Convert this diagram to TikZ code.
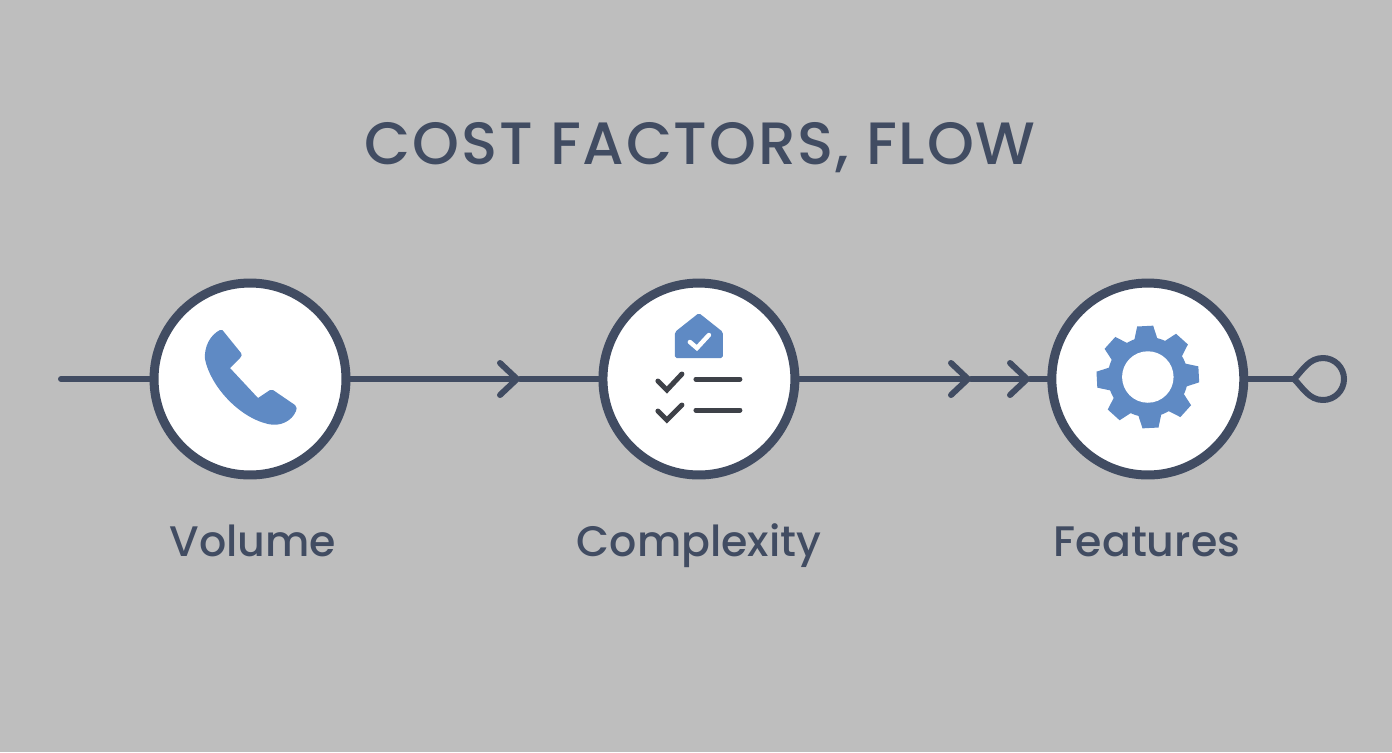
\documentclass[tikz,border=0pt]{standalone}
\usepackage{fontspec}
\setmainfont{Poppins Medium}
\newfontfamily\titlefont[LetterSpace=3]{Poppins Medium}
\usetikzlibrary{arrows.meta}
\definecolor{bggray}{HTML}{BEBEBE}
\definecolor{slateline}{HTML}{414C62}
\definecolor{iconblue}{HTML}{5F8AC4}
\definecolor{darkcheck}{HTML}{3E4148}
\tikzset{
  factor/.style={circle,draw=slateline,fill=white,line width=0.18cm,minimum size=3.84cm},
  flow/.style={draw=slateline,line width=0.12cm,line cap=round,line join=round},
  tick/.style={draw=darkcheck,line width=0.1cm,line cap=round,line join=miter},
  caption/.style={text=slateline,font=\fontsize{24.3}{29}\selectfont,text height=0.62cm,text depth=0.18cm},
}
\begin{document}
\begin{tikzpicture}[x=0.02cm,y=-0.02cm,>={Straight Barb[length=0.34cm,width=0.64cm,round]},node distance=8.98cm]
    \fill[bggray] (0,0) rectangle (1392,752);
    \useasboundingbox (0,0) rectangle (1392,752);

    \node[text=slateline,font=\titlefont\fontsize{34}{38}\selectfont] (title) at (700,148) {COST FACTORS, FLOW};

    \node[factor] (volume) at (250,379) {};
    \node[factor] (complexity) [right of=volume] {};
    \node[factor] (features) [right of=complexity] {};

    \node[caption] (volumetext) at (253,545) {Volume};
    \node[caption] (complexitytext) at (699,545) {Complexity};
    \node[caption] (featurestext) at (1147,545) {Features};

    \coordinate (start) at (61,379);
    \coordinate (tipa) at (520,379);
    \coordinate (tipb) at (971,379);
    \coordinate (tipc) at (1030,379);
    \coordinate (looptip) at (1294,379);

    \path[flow] (start) -- (volume);
    \path[flow,->] (volume) -- (tipa);
    \path[flow] (tipa) -- (complexity);
    \path[flow,->] (complexity) -- (tipb);
    \path[flow,->] (tipb) -- (tipc);
    \path[flow] (tipc) -- (features);
    \path[flow] (features) -- (looptip);
    \path[flow] (looptip) .. controls (1303,370) and (1309,358) .. (1323,358)
        .. controls (1334.6,358) and (1344,367.4) .. (1344,379)
        .. controls (1344,390.6) and (1334.6,400) .. (1323,400)
        .. controls (1309,400) and (1303,388) .. (looptip);

    % phone
    \begin{scope}[shift={(volume)}]
        \fill[iconblue] (-30,-49) .. controls (-28,-49.5) and (-27,-49) .. (-26,-47) -- (-9,-26)
            .. controls (-8,-24) and (-8,-23) .. (-10,-21) -- (-20,-11) -- (8,19) -- (20,11)
            .. controls (21,10.5) and (22,10.5) .. (23,11) -- (45,26)
            .. controls (47,28) and (47,30) .. (46,32)
            .. controls (42,42) and (30,48) .. (18,45)
            .. controls (-12,38) and (-40,6) .. (-45,-20)
            .. controls (-46,-32) and (-40,-44) .. (-30,-49) -- cycle;
    \end{scope}

    % house and check list
    \begin{scope}[shift={(complexity)}]
        \fill[iconblue,rounded corners=1pt] (-24,-47) -- (0,-66) -- (24,-47) -- (24,-21) -- (-24,-21) -- cycle;
        \draw[white,line width=0.09cm,line cap=round] (-9,-37) -- (-2,-31) -- (10,-44);
        \draw[tick] (-41,2) -- (-32,11) -- (-17,-5);
        \draw[tick] (-41,32) -- (-32,41) -- (-17,26);
        \draw[tick,line cap=round] (-3,0) -- (41,0);
        \draw[tick,line cap=round] (-3,31) -- (41,31);
    \end{scope}

    % gear
    \begin{scope}[shift={(features)},yshift=0.04cm]
        \foreach \a in {0,45,...,315}
            \fill[iconblue,rotate=\a+3] (-12,-36) -- (-8,-51) -- (8,-51) -- (12,-36) -- cycle;
        \fill[iconblue] (0,0) circle (0.8cm);
        \fill[white] (0,0) circle (0.515cm);
    \end{scope}
\end{tikzpicture}
\end{document}
